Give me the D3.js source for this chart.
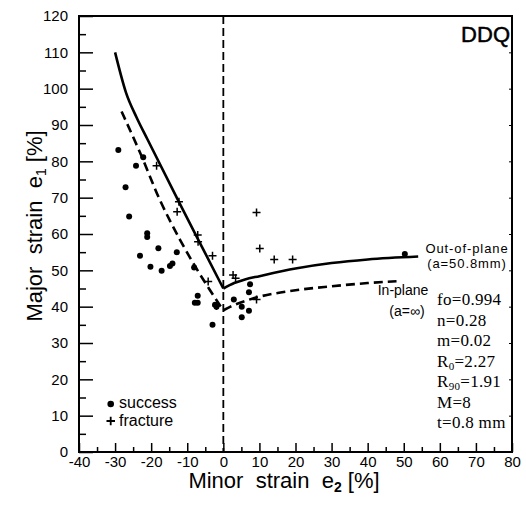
<!DOCTYPE html>
<html>
<head>
<meta charset="utf-8">
<script src="https://cdn.jsdelivr.net/npm/d3@7"></script>
<style>
  body { margin: 0; background: #fff; }
  text { font-family: "Liberation Sans", Arial, sans-serif; fill: #000; }
  .serif { font-family: "Liberation Serif", "Times New Roman", serif; }
</style>
</head>
<body>
<div id="chart"></div>
<script>
// Data (e2 = minor strain, e1 = major strain, both %)
var xTicks = [-40, -30, -20, -10, 0, 10, 20, 30, 40, 50, 60, 70, 80];
var yTicks = [0, 10, 20, 30, 40, 50, 60, 70, 80, 90, 100, 110, 120];

var success = [[-29.1, 83.1], [-22.2, 81.1], [-24.2, 78.8], [-27.1, 72.9], [-26.1, 64.8],
    [-21.1, 60.2], [-21.1, 59.2], [-18.0, 56.1], [-23.1, 54.0], [-20.2, 51.0], [-17.1, 49.9],
    [-14.8, 51.2], [-14.1, 51.9], [-12.9, 55.0], [-8.1, 50.8], [-7.1, 43.0], [-7.9, 41.1],
    [-7.1, 41.1], [-2.3, 40.5], [-1.9, 40.0], [-3.0, 35.0], [2.9, 42.0], [5.1, 40.0],
    [5.1, 37.1], [7.1, 38.9], [7.1, 44.0], [7.4, 46.2], [50.3, 54.5]];

var fracture = [[-18.5, 78.8], [-12.3, 68.9], [-12.8, 66.1], [-7.1, 59.7], [-7.0, 57.9],
    [-3.0, 54.0], [-4.2, 46.9], [-1.9, 40.2], [2.7, 48.7], [3.4, 47.8], [9.2, 42.0],
    [9.2, 65.9], [10.1, 56.0], [14.1, 53.0], [19.2, 53.0]];

// Predicted FLCs
var outOfPlaneLeft = [[-30, 110], [-27, 99], [-24, 92], [-21, 86], [-12, 68.2], [-6, 56.6], [0, 45]];
var outOfPlaneRight = [[0, 45], [3, 46.5], [6, 47.5], [10, 48.4], [20, 50.5], [30, 52], [40, 53], [54, 53.8]];
var inPlaneLeft = [[-28.2, 93.7], [-23, 82.2], [-17.6, 69.4], [-12, 58.4], [-8.3, 51.9], [-4, 45], [0, 39]];
var inPlaneRight = [[0, 39], [2, 40], [8, 42.2], [20, 44.5], [30, 45.6], [40, 46.5], [48, 47]];

var params = [["fo=0.994"], ["n=0.28"], ["m=0.02"], ["R", "0", "=2.27"], ["R", "90", "=1.91"], ["M=8"], ["t=0.8 mm"]];

var svgWidth = 526;
var svgHeight = 508;

var plot = { left: 79, right: 512, top: 16, bottom: 452 };

var svg = d3.select("#chart")
    .append("svg")
    .attr("width", svgWidth)
    .attr("height", svgHeight);

var x = d3.scaleLinear().domain([-40, 80]).range([plot.left, plot.right]);
var y = d3.scaleLinear().domain([0, 120]).range([plot.bottom, plot.top]);

// minor ticks first
svg.append("g")
    .attr("transform", `translate(0, ${plot.bottom})`)
    .call(d3.axisBottom(x).tickValues(d3.range(-35, 80, 10)).tickSizeInner(-5).tickSizeOuter(0).tickFormat(""))
    .call(g => g.select(".domain").remove());

svg.append("g")
    .attr("transform", `translate(${plot.left}, 0)`)
    .call(d3.axisLeft(y).tickValues(d3.range(5, 120, 10)).tickSizeInner(-7).tickSizeOuter(0).tickFormat(""))
    .call(g => g.select(".domain").remove());

// major ticks with labels (plain hyphen for negatives, as in the figure)
var xAxis = svg.append("g")
    .attr("transform", `translate(0, ${plot.bottom})`)
    .call(d3.axisBottom(x).tickValues(xTicks).tickFormat(d => String(d))
        .tickSizeInner(-9).tickSizeOuter(0).tickPadding(4));
xAxis.select(".domain").remove();
xAxis.selectAll("text").style("font-size", "15px").style("font-family", "Liberation Sans, Arial, sans-serif");

var yAxis = svg.append("g")
    .attr("transform", `translate(${plot.left}, 0)`)
    .call(d3.axisLeft(y).tickValues(yTicks).tickFormat(d => String(d))
        .tickSizeInner(-14).tickSizeOuter(0).tickPadding(11));
yAxis.select(".domain").remove();
yAxis.selectAll("text").style("font-size", "15px").style("font-family", "Liberation Sans, Arial, sans-serif");

svg.selectAll(".tick line").attr("stroke", "#000").attr("stroke-width", 1.5);

// small ticks on right side
svg.append("g")
    .attr("transform", `translate(${plot.right}, 0)`)
    .call(d3.axisRight(y).tickValues(yTicks).tickSizeInner(-3).tickSizeOuter(0).tickFormat(""))
    .call(g => g.select(".domain").remove())
    .selectAll("line").attr("stroke-width", 1);

// frame
svg.append("rect")
    .attr("x", plot.left)
    .attr("y", plot.top)
    .attr("width", plot.right - plot.left)
    .attr("height", plot.bottom - plot.top)
    .attr("fill", "none")
    .attr("stroke", "#000")
    .attr("stroke-width", 2);

// e2 = 0 line
svg.append("line")
    .attr("x1", x(0)).attr("x2", x(0))
    .attr("y1", y(120)).attr("y2", y(0))
    .attr("stroke", "#000")
    .attr("stroke-width", 1.8)
    .attr("stroke-dasharray", "8,4");

// curves
var line = d3.line()
    .x(d => x(d[0]))
    .y(d => y(d[1]))
    .curve(d3.curveMonotoneX);

[outOfPlaneLeft, outOfPlaneRight].forEach(function(pts) {
    svg.append("path")
        .attr("d", line(pts))
        .attr("fill", "none")
        .attr("stroke", "#000")
        .attr("stroke-width", 2.6);
});

[inPlaneLeft, inPlaneRight].forEach(function(pts) {
    svg.append("path")
        .attr("d", line(pts))
        .attr("fill", "none")
        .attr("stroke", "#000")
        .attr("stroke-width", 2.6)
        .attr("stroke-dasharray", "9,5");
});

// points
svg.append("g").selectAll("circle")
    .data(success)
    .enter()
    .append("circle")
    .attr("cx", d => x(d[0]))
    .attr("cy", d => y(d[1]))
    .attr("r", 3)
    .attr("fill", "#000");

svg.append("g").selectAll("path")
    .data(fracture)
    .enter()
    .append("path")
    .attr("d", d => `M${x(d[0]) - 4},${y(d[1])}h8M${x(d[0])},${y(d[1]) - 4}v8`)
    .attr("stroke", "#000")
    .attr("stroke-width", 1.5);

// legend
svg.append("circle").attr("cx", 110.7).attr("cy", 404).attr("r", 3.3).attr("fill", "#000");
svg.append("text").attr("x", 119).attr("y", 408).style("font-size", "16px").text("success");
svg.append("path").attr("d", "M106.5,421h8.5M110.7,416.8v8.5").attr("stroke", "#000").attr("stroke-width", 1.8);
svg.append("text").attr("x", 119).attr("y", 425.5).style("font-size", "16px").text("fracture");

// labels inside plot
svg.append("text").attr("x", 510).attr("y", 42).attr("text-anchor", "end")
    .style("font-size", "22px")
    .style("stroke", "#000").style("stroke-width", 0.5)
    .text("DDQ");

svg.append("text").attr("x", 467).attr("y", 253).attr("text-anchor", "middle")
    .style("font-size", "13px").style("letter-spacing", "0.9px").text("Out-of-plane");
svg.append("text").attr("x", 467).attr("y", 268).attr("text-anchor", "middle")
    .style("font-size", "13px").style("letter-spacing", "0.9px").text("(a=50.8mm)");

svg.append("text").attr("x", 403).attr("y", 295).attr("text-anchor", "middle")
    .style("font-size", "14px").text("In-plane");
svg.append("text").attr("x", 407).attr("y", 316).attr("text-anchor", "middle")
    .style("font-size", "14px").text("(a=∞)");

var paramText = svg.append("g");
params.forEach(function(p, i) {
    var t = paramText.append("text")
        .attr("class", "serif")
        .attr("x", 437)
        .attr("y", 305 + i * 20.5)
        .style("font-size", "17px")
        .style("letter-spacing", "0.3px");
    t.append("tspan").text(p[0]);
    if (p.length > 1) {
        t.append("tspan").attr("dy", 3).style("font-size", "11px").text(p[1]);
        t.append("tspan").attr("dy", -3).text(p[2]);
    }
});

// axis titles
var xTitle = svg.append("text")
    .attr("x", 284)
    .attr("y", 488)
    .attr("text-anchor", "middle")
    .style("font-size", "22px")
    .attr("xml:space", "preserve");
xTitle.append("tspan").text("Minor  strain  e");
xTitle.append("tspan").attr("dy", 4).style("font-size", "14px").style("font-weight", "bold").text("2");
xTitle.append("tspan").attr("dy", -4).text(" [%]");

var yTitle = svg.append("text")
    .attr("transform", "translate(42, 226) rotate(-90)")
    .attr("text-anchor", "middle")
    .style("font-size", "22px")
    .attr("xml:space", "preserve");
yTitle.append("tspan").text("Major  strain  e");
yTitle.append("tspan").attr("dy", 4).style("font-size", "14px").text("1");
yTitle.append("tspan").attr("dy", -4).text(" [%]");
</script>
</body>
</html>
